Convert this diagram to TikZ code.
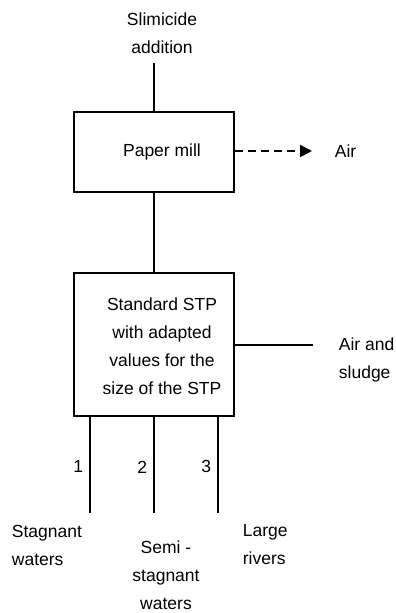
\documentclass[tikz,border=0pt]{standalone}
\usepackage{fontspec}
\setmainfont{Liberation Sans}
\usetikzlibrary{arrows.meta}

\begin{document}
\begin{tikzpicture}[x=0.5pt, y=-0.5pt, line width=0.9pt,
		every node/.style={font=\fontsize{8.75}{14}\selectfont, inner sep=0pt},
		unit/.style={draw, minimum width=80pt, inner sep=0pt}]
		\useasboundingbox (0,0) rectangle (395,613);
		\node (slim) [align=center] at (162,33) {Slimicide\\addition};
		\coordinate (feed) at (154,63);
		\node (mill) [unit, minimum height=40pt,
			label={[xshift=4pt]center:Paper mill}] at (154,152) {};
		\coordinate (airend) at (312,151);
		\node (air) [anchor=west] at (334,151) {Air};
		\node (stp) [unit, minimum height=71.5pt,
			label={[xshift=4pt, yshift=-1pt, align=center]center:Standard STP\\with adapted\\values for the\\size of the STP}] at (154,344.5) {};
		\coordinate (sludgeend) at (313,345);
		\node (sludge) [anchor=west, align=left] at (338,360) {Air and\\sludge};
		\coordinate (out1) at (90,513);
		\coordinate (out2) at (154,513);
		\coordinate (out3) at (218,513);
		\node (stag) [anchor=west, align=left] at (11,545) {Stagnant\\waters};
		\node (semi) [align=center] at (166,575) {Semi -\\stagnant\\waters};
		\node (large) [anchor=west, align=left] at (242,545) {Large\\rivers};
		\draw (feed) -- (mill);
		\draw [dash pattern=on 4pt off 2.5pt, -{Triangle[length=6pt, width=6pt]}] (mill.east |- airend) -- (airend);
		\draw (mill) -- (stp);
		\draw (stp.east |- sludgeend) -- (sludgeend);
		\draw (stp.south -| out1) -- node[left, xshift=-3pt, yshift=-1pt] {1} (out1);
		\draw (stp.south -| out2) -- node[left, xshift=-3pt, yshift=-1pt] {2} (out2);
		\draw (stp.south -| out3) -- node[left, xshift=-3pt, yshift=-1pt] {3} (out3);
		\end{tikzpicture}
\end{document}
